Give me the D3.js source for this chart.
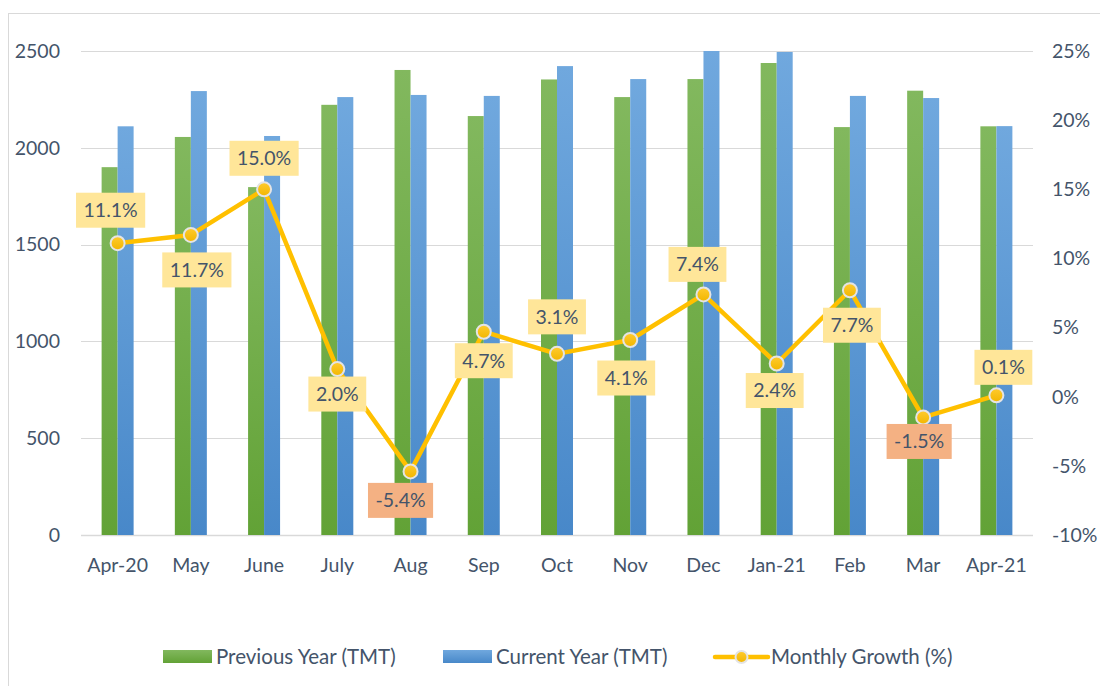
<!DOCTYPE html>
<html>
<head>
<meta charset="utf-8">
<script src="https://cdn.jsdelivr.net/npm/d3@7"></script>
<style>
  body { margin: 0; background: #fff; }
  svg { display: block; font-family: Lato, "Open Sans", sans-serif; }
</style>
</head>
<body>
<div id="chart"></div>
<script>
// data
const months = ['Apr-20', 'May', 'June', 'July', 'Aug', 'Sep', 'Oct', 'Nov', 'Dec', 'Jan-21', 'Feb', 'Mar', 'Apr-21'];
const previousYear = [1900, 2056, 1797, 2222, 2402, 2164, 2353, 2262, 2355, 2438, 2107, 2295, 2111];
const currentYear = [2111, 2293, 2061, 2262, 2273, 2268, 2422, 2355, 2500, 2495, 2268, 2257, 2112];
const growth = [11.1, 11.7, 15.0, 2.0, -5.4, 4.7, 3.1, 4.1, 7.4, 2.4, 7.7, -1.5, 0.1];
const leftTicks = [0, 500, 1000, 1500, 2000, 2500];
const rightTicks = [-10, -5, 0, 5, 10, 15, 20, 25];
const seriesNames = ['Previous Year (TMT)', 'Current Year (TMT)', 'Monthly Growth (%)'];

// label box placement relative to its point (layout, like Excel's auto placement)
const labelOffsets = [[-7, -33], [6, 35], [0, -31], [0, 25], [-10, 29], [0, 29], [0, -37],
                      [-4, 38], [-6, -30], [-2, 27], [2, 35], [-4, 24], [7, -28]];

const W = 1100, H = 686;
const plot = { left: 81, right: 1033, top: 51, bottom: 535 };
const textColor = '#44546a';
const gridColor = '#d9d9d9';
const lineColor = '#ffc000';

const svg = d3.select('#chart').append('svg')
    .attr('width', W)
    .attr('height', H);

const defs = svg.append('defs');
function vGradient(id, top, bottom) {
    let g = defs.append('linearGradient')
        .attr('id', id)
        .attr('x1', 0).attr('y1', 0).attr('x2', 0).attr('y2', 1);
    g.append('stop').attr('offset', '0%').attr('stop-color', top);
    g.append('stop').attr('offset', '100%').attr('stop-color', bottom);
}
vGradient('gGreen', '#82b85e', '#62a236');
vGradient('gBlue', '#70a8de', '#4888c9');
vGradient('gDot', '#ffcb2e', '#f2b600');

// chart border
svg.append('rect')
    .attr('x', 8.5).attr('y', 13.5)
    .attr('width', W + 10).attr('height', H + 10)
    .attr('fill', 'none')
    .attr('stroke', '#d9d9d9')
    .attr('stroke-width', 1);

const x = d3.scaleBand()
    .domain(months)
    .range([plot.left, plot.right])
    .padding(0);

const yLeft = d3.scaleLinear()
    .domain([0, 2500])
    .range([plot.bottom, plot.top]);

const yRight = d3.scaleLinear()
    .domain([-10, 25])
    .range([plot.bottom, plot.top]);

// gridlines
svg.append('g')
    .selectAll('line')
    .data(leftTicks)
    .enter().append('line')
    .attr('x1', plot.left)
    .attr('x2', plot.right)
    .attr('y1', d => Math.round(yLeft(d)) + 0.5)
    .attr('y2', d => Math.round(yLeft(d)) + 0.5)
    .attr('stroke', gridColor)
    .attr('stroke-width', d => d === 0 ? 1.5 : 1);

// left axis labels
svg.append('g')
    .selectAll('text')
    .data(leftTicks)
    .enter().append('text')
    .attr('x', 60)
    .attr('y', d => yLeft(d))
    .attr('dy', '0.35em')
    .attr('text-anchor', 'end')
    .attr('fill', textColor)
    .style('font-size', '19.5px')
    .text(d => d);

// right axis labels
svg.append('g')
    .selectAll('text')
    .data(rightTicks)
    .enter().append('text')
    .attr('x', 1052)
    .attr('y', d => yRight(d))
    .attr('dy', '0.35em')
    .attr('text-anchor', 'start')
    .attr('fill', textColor)
    .style('font-size', '19.5px')
    .text(d => d + '%');

// category labels
svg.append('g')
    .selectAll('text')
    .data(months)
    .enter().append('text')
    .attr('x', d => x(d) + x.bandwidth() / 2)
    .attr('y', 565)
    .attr('dy', '0.35em')
    .attr('text-anchor', 'middle')
    .attr('fill', textColor)
    .style('font-size', '19.5px')
    .text(d => d);

// bars
const barW = 16;
svg.append('g')
    .selectAll('rect')
    .data(months)
    .enter().append('rect')
    .attr('x', d => x(d) + x.bandwidth() / 2 - barW)
    .attr('width', barW)
    .attr('y', (d, i) => yLeft(previousYear[i]))
    .attr('height', (d, i) => yLeft(0) - yLeft(previousYear[i]))
    .attr('fill', 'url(#gGreen)');

svg.append('g')
    .selectAll('rect')
    .data(months)
    .enter().append('rect')
    .attr('x', d => x(d) + x.bandwidth() / 2)
    .attr('width', barW)
    .attr('y', (d, i) => yLeft(currentYear[i]))
    .attr('height', (d, i) => yLeft(0) - yLeft(currentYear[i]))
    .attr('fill', 'url(#gBlue)');

// growth line
const pts = months.map((m, i) => ({ m: m, v: growth[i], x: x(m) + x.bandwidth() / 2, y: yRight(growth[i]), i: i }));

svg.append('path')
    .datum(pts)
    .attr('d', d3.line().x(d => d.x).y(d => d.y))
    .attr('fill', 'none')
    .attr('stroke', lineColor)
    .attr('stroke-width', 4.5)
    .attr('stroke-linejoin', 'round');

svg.append('g')
    .selectAll('circle')
    .data(pts)
    .enter().append('circle')
    .attr('cx', d => d.x)
    .attr('cy', d => d.y)
    .attr('r', 7)
    .attr('fill', 'url(#gDot)')
    .attr('stroke', '#e4e4e4')
    .attr('stroke-width', 2);

// data labels
const labels = svg.append('g')
    .selectAll('g')
    .data(pts)
    .enter().append('g')
    .attr('transform', d => 'translate(' + (d.x + labelOffsets[d.i][0]) + ',' + (d.y + labelOffsets[d.i][1]) + ')');

labels.append('rect')
    .attr('fill', d => d.v < 0 ? '#f4b183' : '#ffe699');

labels.append('text')
    .attr('text-anchor', 'middle')
    .attr('dy', '0.35em')
    .attr('fill', textColor)
    .style('font-size', '19.5px')
    .text(d => d.v.toFixed(1) + '%');

labels.each(function() {
    let g = d3.select(this);
    let bb = g.select('text').node().getBBox();
    let w = bb.width + 15, h = 35;
    g.select('rect')
        .attr('x', -w / 2)
        .attr('y', -h / 2)
        .attr('width', w)
        .attr('height', h);
});

// legend
const legend = svg.append('g').attr('transform', 'translate(0,657)');
const legendItems = [
    { name: seriesNames[0], x: 163, type: 'bar', fill: 'url(#gGreen)' },
    { name: seriesNames[1], x: 443, type: 'bar', fill: 'url(#gBlue)' },
    { name: seriesNames[2], x: 715, type: 'line' }
];

legendItems.forEach(function(it) {
    if (it.type === 'bar') {
        legend.append('rect')
            .attr('x', it.x)
            .attr('y', -7)
            .attr('width', 49)
            .attr('height', 13)
            .attr('fill', it.fill);
    } else {
        legend.append('line')
            .attr('x1', it.x).attr('x2', it.x + 53)
            .attr('y1', 0).attr('y2', 0)
            .attr('stroke', lineColor)
            .attr('stroke-width', 4.5)
            .attr('stroke-linecap', 'round');
        legend.append('circle')
            .attr('cx', it.x + 26.5)
            .attr('cy', 0)
            .attr('r', 6)
            .attr('fill', 'url(#gDot)')
            .attr('stroke', '#e4e4e4')
            .attr('stroke-width', 2);
    }
    legend.append('text')
        .attr('x', it.x + (it.type === 'bar' ? 53 : 56))
        .attr('y', 0)
        .attr('dy', '0.35em')
        .attr('fill', textColor)
        .style('font-size', '20.5px')
        .text(it.name);
});
</script>
</body>
</html>
